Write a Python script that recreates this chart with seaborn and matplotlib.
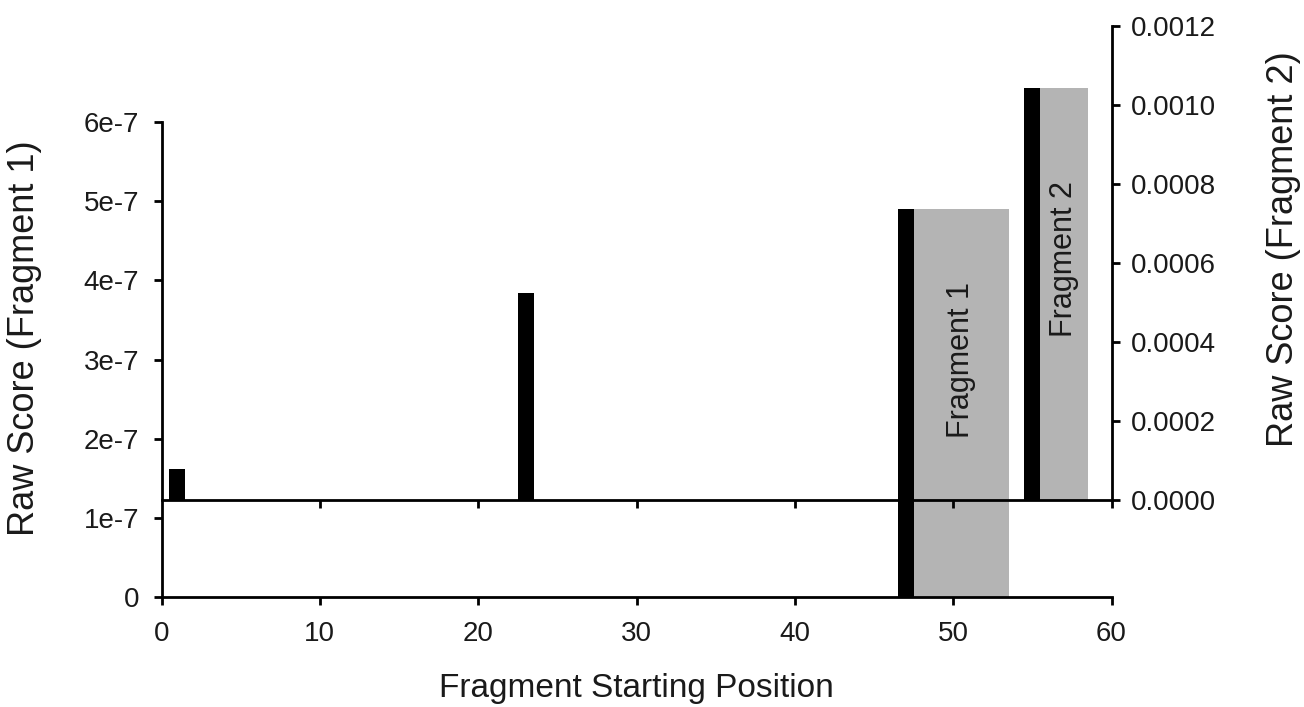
import matplotlib
matplotlib.use("Agg")
import matplotlib.pyplot as plt
import seaborn as sns

# raw scores
frag1_pos = [47]
frag1_score = [4.9e-7]
frag2_pos = [1, 23, 55]
frag2_score = [0.0000785, 0.000524, 0.001042]

# extent of each fragment (shaded)
frag_names = ["Fragment 1", "Fragment 2"]
frag_start = [47.5, 55.5]
frag_end = [53.5, 58.5]

left_ticks = [0, 1e-7, 2e-7, 3e-7, 4e-7, 5e-7, 6e-7]
left_labels = ["0", "1e-7", "2e-7", "3e-7", "4e-7", "5e-7", "6e-7"]
right_ticks = [0, 0.0002, 0.0004, 0.0006, 0.0008, 0.0010, 0.0012]
right_labels = ["0.0000", "0.0002", "0.0004", "0.0006", "0.0008", "0.0010", "0.0012"]
x_ticks = [0, 10, 20, 30, 40, 50, 60]

sns.set_style("ticks")
plt.rcParams['font.family'] = ['Liberation Sans', 'DejaVu Sans']
plt.rcParams['text.color'] = '#1a1a1a'
plt.rcParams['axes.labelcolor'] = '#1a1a1a'

W, H = 1304, 707
fig = plt.figure(figsize=(W / 100, H / 100), dpi=100)
ax1 = fig.add_axes([161.5 / W, 1 - 597 / H, 950 / W, 475 / H])
ax2 = fig.add_axes([161.5 / W, 1 - 500 / H, 950 / W, 474 / H])
ax2.patch.set_visible(False)

gray = "#b4b4b4"
lw = 2.0
tick_fs = 20
xlabel_fs = 24
ylabel_fs = 26
inner_fs = 22

# fragment 1 on the left axis
ax1.bar(frag_start[0], frag1_score[0], width=frag_end[0] - frag_start[0],
        align="edge", color=gray, linewidth=0)
ax1.bar(frag1_pos, frag1_score, width=1.0, color="black", linewidth=0)
ax1.text((frag_start[0] + frag_end[0]) / 2, frag1_score[0] * 0.61, frag_names[0],
         rotation=90, ha="center", va="center", fontsize=inner_fs)

# fragment 2 on the right axis
ax2.bar(frag_start[1], frag2_score[2], width=frag_end[1] - frag_start[1],
        align="edge", color=gray, linewidth=0)
ax2.bar(frag2_pos, frag2_score, width=1.0, color="black", linewidth=0)
ax2.text((frag_start[1] + frag_end[1]) / 2, frag2_score[2] * 0.585, frag_names[1],
         rotation=90, ha="center", va="center", fontsize=inner_fs)

ax1.set_xlim(0, 60)
ax1.set_ylim(0, 6e-7)
ax1.set_xticks(x_ticks)
ax1.set_yticks(left_ticks)
ax1.set_yticklabels(left_labels)
sns.despine(ax=ax1, top=True, right=True)
ax1.tick_params(axis="both", direction="out", length=6, width=lw,
                labelsize=tick_fs, colors="black", labelcolor="#1a1a1a")
ax1.tick_params(axis="x", pad=11)
ax1.tick_params(axis="y", pad=10)
for s in ["left", "bottom"]:
    ax1.spines[s].set_linewidth(lw)
    ax1.spines[s].set_color("black")
ax1.set_xlabel("Fragment Starting Position", fontsize=xlabel_fs)
ax1.set_ylabel("Raw Score (Fragment 1)", fontsize=ylabel_fs)
ax1.xaxis.set_label_coords(0.5, -0.16)
ax1.yaxis.set_label_coords(-0.126, 0.545)

ax2.set_xlim(0, 60)
ax2.set_ylim(0, 0.0012)
ax2.set_xticks(x_ticks[1:])
ax2.set_xticklabels([])
ax2.set_yticks(right_ticks)
ax2.set_yticklabels(right_labels)
ax2.spines["top"].set_visible(False)
ax2.spines["left"].set_visible(False)
for s in ["right", "bottom"]:
    ax2.spines[s].set_linewidth(lw)
    ax2.spines[s].set_color("black")
ax2.yaxis.tick_right()
ax2.yaxis.set_label_position("right")
ax2.tick_params(axis="both", direction="out", length=6, width=lw,
                labelsize=tick_fs, colors="black", labelcolor="#1a1a1a")
ax2.tick_params(axis="y", pad=8)
ax2.set_ylabel("Raw Score (Fragment 2)", fontsize=ylabel_fs)
ax2.yaxis.set_label_coords(1.163, 0.53)

fig.savefig("out.png", dpi=100)
